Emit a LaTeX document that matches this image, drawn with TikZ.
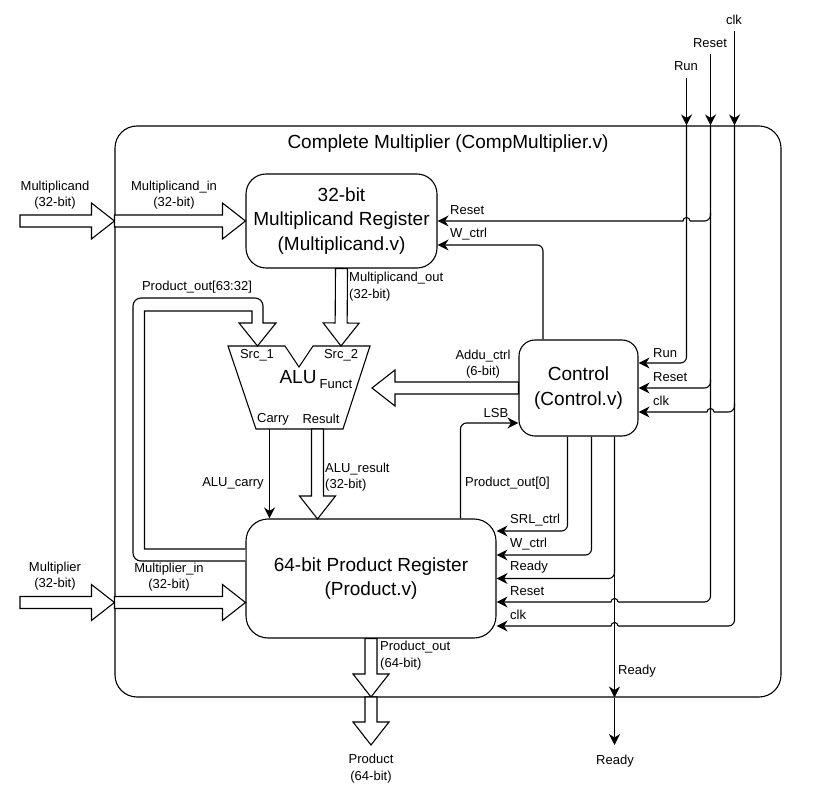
\documentclass[tikz,border=0pt]{standalone}
\usepackage{fontspec}
\setmainfont{Liberation Sans}
\usetikzlibrary{arrows.meta,calc}

\tikzset{
  sig/.style={draw,line width=1.1pt},
  tip/.style={-{Stealth[length=11pt,width=11pt,inset=3.5pt]}},
  bus/.style={draw,fill=white,line width=1.1pt,line join=miter},
  block/.style={draw,line width=1.1pt,align=center,inner sep=0pt,font=\fontsize{19}{24.5}\selectfont,execute at begin node={\rule{0pt}{18pt}}},
  lbl/.style={inner sep=0pt,align=center,font=\fontsize{13}{16.5}\selectfont},
  lbll/.style={lbl,anchor=west,align=left},
}
% block arrow from #1 to the tip #2
\newcommand{\busarrow}[2]{
  \draw[bus] ($(#1)!6pt!90:(#2)$) -- ($(#2)!23pt!(#1)!6pt!-90:(#1)$) -- ($(#2)!23pt!(#1)!18pt!-90:(#1)$) -- (#2)
    -- ($(#2)!23pt!(#1)!18pt!90:(#1)$) -- ($(#2)!23pt!(#1)!6pt!90:(#1)$) -- ($(#1)!6pt!-90:(#2)$) -- cycle;
}

\begin{document}
\begin{tikzpicture}[x=1pt,y=-1pt]
  \useasboundingbox (0,0) rectangle (825,791);

  %outer frame
  \node[block,rounded corners=22pt,minimum width=666pt,minimum height=571pt] (frame) at (448,411.5) {};
  \node[font=\fontsize{19}{25}\selectfont,inner sep=0pt] (title) at (448,144) {Complete Multiplier (CompMultiplier.v)};

  %blocks
  \node[block,rounded corners=20pt,minimum width=191pt,minimum height=94pt] (mcand) at (341.5,221) {32-bit\\Multiplicand Register\\(Multiplicand.v)};
  \node[block,rounded corners=22pt,minimum width=250pt,minimum height=119pt] (prod) at (371,578.5) {64-bit Product Register\\(Product.v)};
  \node[block,rounded corners=16pt,minimum width=119pt,minimum height=96pt] (ctrl) at (578.5,388) {Control\\(Control.v)};

  %alu
  \coordinate (src1) at (257.5,346);
  \coordinate (src2) at (341,346);
  \coordinate (funct) at (372,388);
  \coordinate (carry) at (269.5,429);
  \coordinate (result) at (317.5,429);
  \draw[sig,line join=miter] (228,346) -- (285,346) -- (299,367) -- (313,346) -- (370,346) -- (343,429) -- (256,429) -- cycle;
  \node[lbl] (srca) at (257,355) {Src\_1};
  \node[lbl] (srcb) at (341,355) {Src\_2};
  \node[font=\fontsize{19}{25}\selectfont,inner sep=0pt] (alu) at (298,377) {ALU};
  \node[lbl] (fct) at (336,384) {Funct};
  \node[lbl] (cry) at (273,419) {Carry};
  \node[lbl] (res) at (321,419) {Result};

  %inputs
  \coordinate (mcandin) at (20,221);
  \coordinate (mplierin) at (20,602.5);
  \coordinate (mcandedge) at (frame.west |- mcand.west);
  \coordinate (mplieredge) at (frame.west |- mplierin);
  \coordinate (mplierend) at (prod.west |- mplierin);
  \coordinate (runin) at (686.5,78);
  \coordinate (rstin) at (710.5,54);
  \coordinate (clkin) at (734.5,31);
  \coordinate (readyout) at ([xshift=36pt]ctrl.south |- 0,745);
  \coordinate (prodout) at (371,745);
  \coordinate (prodedge) at (371,697);

  %buses
  \busarrow{mcandin}{mcandedge}
  \busarrow{mcandedge}{mcand.west}
  \busarrow{mplierin}{mplieredge}
  \busarrow{mplieredge}{mplierend}
  \busarrow{mcand.south}{src2}
  \busarrow{result}{317.5,519}
  \busarrow{ctrl.west}{funct}
  \busarrow{prod.south}{prodedge}
  \busarrow{prodedge}{prodout}

  %product feedback
  \draw[bus] ([yshift=29.5pt]prod.west) -- (144.5,549) -- (144.5,311) -- (252,311) -- (252,323) -- (239,323) -- (src1) -- (276,323) -- (263,323)
    [rounded corners=8pt] -- (263,298) -- (133,298) -- (133,561) [sharp corners] -- ([yshift=17.5pt]prod.west);

  %signals from outside
  \draw[sig,tip] (runin) -- (runin |- frame.north);
  \draw[sig,tip] (rstin) -- (rstin |- frame.north);
  \draw[sig,tip] (clkin) -- (clkin |- frame.north);
  \draw[sig,tip,rounded corners=6pt] (runin |- frame.north) |- ([yshift=25pt]ctrl.east);
  \draw[sig,tip,rounded corners=6pt] (rstin |- frame.north) |- (ctrl.east);
  \draw[sig,tip] [rounded corners=6pt] ([yshift=8pt]rstin |- mcand.east) |- ([xshift=3.5pt]runin |- mcand.east) [sharp corners]
    ([xshift=3.5pt]runin |- mcand.east) arc[start angle=0,end angle=-180,radius=3.5] -- (mcand.east);
  \draw[sig,tip] [rounded corners=6pt] (clkin |- frame.north) |- ([xshift=3.5pt,yshift=-24pt]rstin |- ctrl.east) [sharp corners]
    ([xshift=3.5pt,yshift=-24pt]rstin |- ctrl.east) arc[start angle=0,end angle=-180,radius=3.5] -- ([yshift=-24pt]ctrl.east);
  \draw[sig,tip] [rounded corners=6pt] ([yshift=8pt]rstin |- ctrl.east) |- ([xshift=3.5pt,yshift=-23.5pt]readyout |- prod.east) [sharp corners]
    ([xshift=3.5pt,yshift=-23.5pt]readyout |- prod.east) arc[start angle=0,end angle=-180,radius=3.5] -- ([yshift=-23.5pt]prod.east);
  \draw[sig,tip] [rounded corners=6pt] ([yshift=-16pt]clkin |- ctrl.east) |- ([xshift=3.5pt,yshift=-47.5pt]readyout |- prod.east) [sharp corners]
    ([xshift=3.5pt,yshift=-47.5pt]readyout |- prod.east) arc[start angle=0,end angle=-180,radius=3.5] -- ([yshift=-47.5pt]prod.east);

  %signals from control
  \draw[sig,tip,rounded corners=6pt] ([xshift=-35.5pt]ctrl.north) |- ([yshift=-24pt]mcand.east);
  \draw[sig,tip,rounded corners=6pt] ([xshift=-11pt]ctrl.south) |- ([yshift=47.5pt]prod.east);
  \draw[sig,tip,rounded corners=6pt] ([xshift=13pt]ctrl.south) |- ([yshift=23.5pt]prod.east);
  \draw[sig,tip,rounded corners=6pt] ([xshift=36pt]ctrl.south) |- (prod.east);
  \draw[sig,tip] ([yshift=8pt]readyout |- prod.east) -- (readyout |- frame.south);
  \draw[sig,tip] (readyout |- frame.south) -- (readyout);
  \draw[sig,tip,rounded corners=6pt] ([xshift=89.5pt]prod.north) |- ([yshift=-35pt]ctrl.west);
  \draw[sig,tip] (carry) -- (carry |- prod.north);

  %labels
  \node[lbl] (lmcand) at (55,195) {Multiplicand\\(32-bit)};
  \node[lbl] (lmcandin) at (174,195) {Multiplicand\_in\\(32-bit)};
  \node[lbl] (lmplier) at (55,576) {Multiplier\\(32-bit)};
  \node[lbl] (lmplierin) at (169,577) {Multiplier\_in\\(32-bit)};
  \node[lbll] (lmcandout) at (349,286.5) {Multiplicand\_out\\(32-bit)};
  \node[lbl] (lprodhi) at (197,287) {Product\_out[63:32]};
  \node[lbl] (lcarry) at (233,483) {ALU\_carry};
  \node[lbll] (lresult) at (325,477) {ALU\_result\\(32-bit)};
  \node[lbl] (laddu) at (483,364) {Addu\_ctrl\\(6-bit)};
  \node[lbl] (llsb) at (496,413) {LSB};
  \node[lbll] (lprodlo) at (465,483) {Product\_out[0]};
  \node[lbll] (lmrst) at (450,210) {Reset};
  \node[lbll] (lmw) at (450,234) {W\_ctrl};
  \node[lbll] (lcrun) at (653,353) {Run};
  \node[lbll] (lcrst) at (653,377) {Reset};
  \node[lbll] (lcclk) at (653,401) {clk};
  \node[lbll] (lpsrl) at (510,520) {SRL\_ctrl};
  \node[lbll] (lpw) at (510,544) {W\_ctrl};
  \node[lbll] (lprdy) at (510,567) {Ready};
  \node[lbll] (lprst) at (510,591) {Reset};
  \node[lbll] (lpclk) at (510,615) {clk};
  \node[lbll] (lprodout) at (380,655.5) {Product\_out\\(64-bit)};
  \node[lbl] (lprod) at (371,768.5) {Product\\(64-bit)};
  \node[lbll] (lrdyin) at (618,671) {Ready};
  \node[lbl] (lrdy) at (615,761) {Ready};
  \node[lbl] (lrun) at (686,66) {Run};
  \node[lbl] (lrst) at (710,43) {Reset};
  \node[lbl] (lclk) at (734,20) {clk};
\end{tikzpicture}
\end{document}
